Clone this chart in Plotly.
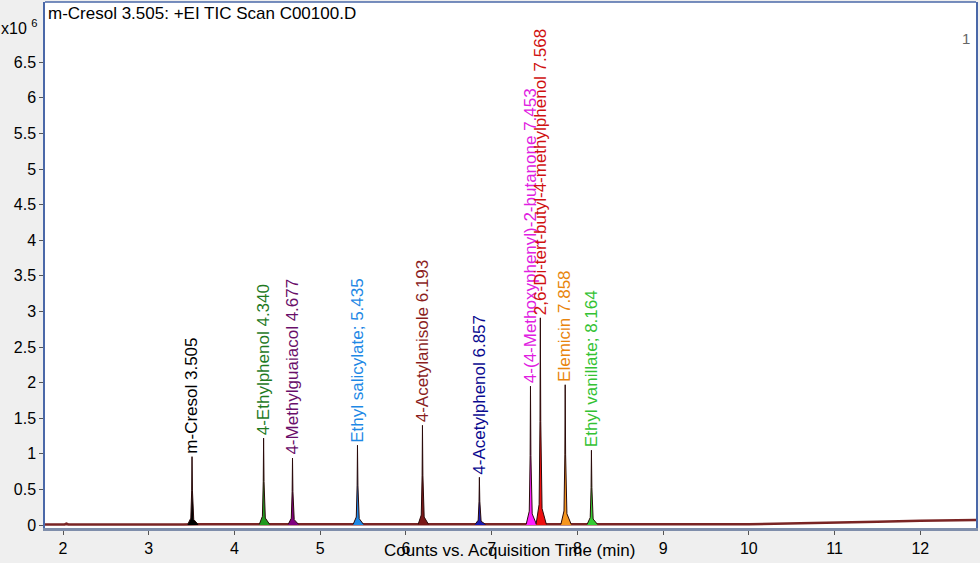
import plotly.graph_objects as go

# ---- data (counts in units of 1e6) ----
compounds = ["m-Cresol 3.505", "4-Ethylphenol 4.340", "4-Methylguaiacol 4.677",
             "Ethyl salicylate; 5.435", "4-Acetylanisole 6.193", "4-Acetylphenol 6.857",
             "4-(4-Methoxyphenyl)-2-butanone 7.453", "2,6-Di-tert-butyl-4-methylphenol 7.568",
             "Elemicin 7.858", "Ethyl vanillate; 8.164"]
retention_times = [3.505, 4.340, 4.677, 5.435, 6.193, 6.857, 7.453, 7.568, 7.858, 8.164]
peak_heights = [0.96, 1.22, 0.94, 1.12, 1.40, 0.67, 1.95, 2.91, 1.97, 1.05]
label_colors = ["#000000", "#1f7a1f", "#6a0f6a", "#1e88e5", "#8b1e1e", "#0a0a90",
                "#e020e0", "#d01010", "#e8850c", "#33c233"]
fill_colors = ["#000000", "#1f9a1f", "#800080", "#1e88e5", "#7a1818", "#1a1ab0",
               "#ff20ff", "#ee1010", "#f5961e", "#33cc33"]

baseline_time = [1.79, 2.02, 2.04, 2.06, 3.40, 3.60, 10.0, 10.5, 11.0, 11.5, 12.0, 12.65]
baseline_counts = [0.008, 0.008, 0.02, 0.008, 0.008, 0.012, 0.012, 0.02, 0.03, 0.045, 0.06, 0.07]

x_ticks = [2, 3, 4, 5, 6, 7, 8, 9, 10, 11, 12]
y_ticks = [0, 0.5, 1, 1.5, 2, 2.5, 3, 3.5, 4, 4.5, 5, 5.5, 6, 6.5]

title_text = "m-Cresol 3.505: +EI TIC Scan C00100.D"
x_title = "Counts vs. Acquisition Time (min)"

FONT = "Liberation Sans, Arial, sans-serif"
L, R, T, B = 45, 2, 2, 35
W, H = 980, 563
PW, PH = W - L - R, H - T - B


def px_x(p):
    return (p - L) / PW


def px_y(p):
    return (H - B - p) / PH


fig = go.Figure()

# baseline
fig.add_trace(go.Scatter(x=baseline_time, y=baseline_counts, mode="lines",
                         line=dict(color="#7a2424", width=2.5), hoverinfo="skip",
                         showlegend=False))

# peaks
for rt, h, fc in zip(retention_times, peak_heights, fill_colors):
    xs = [rt - 0.05, rt - 0.014, rt - 0.004, rt, rt + 0.005, rt + 0.02, rt + 0.07]
    ys = [0.01, 0.1 * h, 0.5 * h, h, 0.5 * h, 0.08 * h, 0.01]
    fig.add_trace(go.Scatter(x=xs, y=ys, mode="lines", fill="tozeroy",
                             fillcolor=fc, line=dict(color="#2a0a0a", width=1),
                             hoverinfo="skip", showlegend=False))

# peak labels
for name, rt, h, c in zip(compounds, retention_times, peak_heights, label_colors):
    fig.add_annotation(x=rt, y=h, text=name, textangle=-90, showarrow=False,
                       xanchor="center", yanchor="bottom", yshift=1,
                       font=dict(family=FONT, size=17, color=c))

# title & misc text
fig.add_annotation(xref="paper", yref="paper", x=px_x(46), y=px_y(14), text=title_text,
                   showarrow=False, xanchor="left", yanchor="middle",
                   font=dict(family=FONT, size=17, color="#000"))
fig.add_annotation(xref="paper", yref="paper", x=px_x(39), y=px_y(27), text="x10 <sup>6</sup>",
                   showarrow=False, xanchor="right", yanchor="middle",
                   font=dict(family=FONT, size=16, color="#000"))
fig.add_annotation(xref="paper", yref="paper", x=px_x(968), y=px_y(38), text="1",
                   showarrow=False, xanchor="center", yanchor="middle",
                   font=dict(family=FONT, size=15, color="#666"))
fig.add_annotation(xref="paper", yref="paper", x=px_x(510), y=px_y(550), text=x_title,
                   showarrow=False, xanchor="center", yanchor="middle",
                   font=dict(family=FONT, size=17, color="#000"))

# top border
fig.add_shape(type="line", xref="paper", yref="paper", x0=0, x1=1, y0=1, y1=1,
              line=dict(color="#4a68a8", width=1.5))

fig.update_layout(
    width=W, height=H,
    margin=dict(l=L, r=R, t=T, b=B),
    paper_bgcolor="#efefef", plot_bgcolor="#ffffff",
    font=dict(family=FONT, size=16, color="#000"),
    xaxis=dict(range=[1.79, 12.65], tickvals=x_ticks, ticks="outside", ticklen=4,
               tickcolor="#555", showgrid=False, zeroline=False, showline=True,
               linecolor="#7f8eab", linewidth=3, tickfont=dict(size=16)),
    yaxis=dict(range=[-0.042, 7.346], tickvals=y_ticks, ticks="outside", ticklen=4,
               tickcolor="#555", showgrid=False, zeroline=False, showline=True,
               mirror=True, linecolor="#4a68a8", linewidth=1.5, tickfont=dict(size=16)),
)

fig.write_html("out.html", config={"displayModeBar": False},
               post_script="document.body.style.margin='0';document.body.style.padding='0';"
                           "document.body.style.background='#efefef';")
